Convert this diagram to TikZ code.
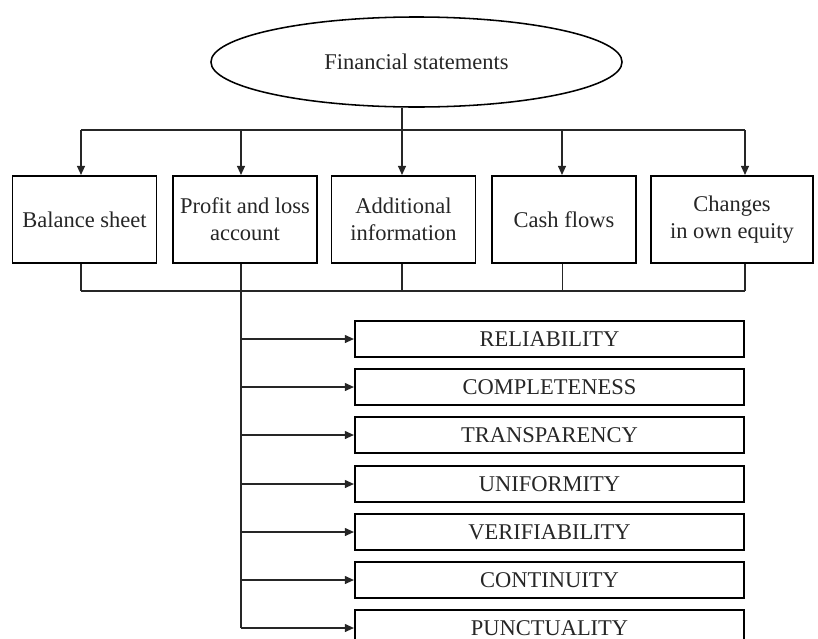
\documentclass[tikz,border=0pt]{standalone}
\usepackage{fontspec}
\setmainfont{Liberation Serif}
\usetikzlibrary{shapes.geometric,arrows.meta}

\tikzset{
  txt/.style={font=\fontsize{16}{19}\selectfont, text=black!85},
  part/.style={txt, draw, line width=1.3pt, align=center, inner sep=2pt,
    minimum width=3.6cm, minimum height=2.175cm},
  quality/.style={txt, draw, line width=1.3pt, inner sep=0pt,
    minimum width=9.725cm, minimum height=0.9cm},
  link/.style={line width=1.3pt, black!85},
  arr/.style={link, -{Triangle[length=6.5pt,width=5.5pt]}}
}

\begin{document}
\begin{tikzpicture}[x=0.025cm, y=-0.025cm]
  \useasboundingbox (0,0) rectangle (818,639);
  % title
  \node[txt, draw, ellipse, line width=1.1pt, minimum width=10.275cm,
    minimum height=2.25cm, inner sep=0pt] (fs) at (416.5,62) {Financial statements};
  % parts of the statements
  \node[part] (bs) at (84.5,219.5) {Balance sheet};
  \node[part] (pl) at (245,219.5) {Profit and loss\\account};
  \node[part] (ai) at (403.5,219.5) {Additional\\information};
  \node[part] (cf) at (564,219.5) {Cash flows};
  \node[part, minimum width=4.05cm] (ce) at (732,219.5) {Changes\\in own equity};
  % upper bus
  \coordinate (t1) at (81,130);
  \coordinate (t2) at (241,130);
  \coordinate (t3) at (402,130);
  \coordinate (t4) at (562,130);
  \coordinate (t5) at (745,130);
  \draw[link] (t1) -- (t5);
  \draw[arr] (t3 |- fs.south) -- (t3 |- ai.north);
  \draw[arr] (t1) -- (t1 |- bs.north);
  \draw[arr] (t2) -- (t2 |- pl.north);
  \draw[arr] (t4) -- (t4 |- cf.north);
  \draw[arr] (t5) -- (t5 |- ce.north);
  % lower bus
  \coordinate (b1) at (81,291);
  \coordinate (b2) at (241,291);
  \coordinate (b3) at (402,291);
  \coordinate (b4) at (562,291);
  \coordinate (b5) at (745,291);
  \draw[link, line width=0.9pt] (b1) -- (b5);
  \draw[link] (b1 |- bs.south) -- (b1);
  \draw[link] (b3 |- ai.south) -- (b3);
  \draw[link, line width=0.6pt] (b4 |- cf.south) -- (b4);
  \draw[link] (b5 |- ce.south) -- (b5);
  % qualities
  \node[quality] (q1) at (549.5,339) {RELIABILITY};
  \node[quality] (q2) at (549.5,387) {COMPLETENESS};
  \node[quality] (q3) at (549.5,435) {TRANSPARENCY};
  \node[quality] (q4) at (549.5,484) {UNIFORMITY};
  \node[quality] (q5) at (549.5,532) {VERIFIABILITY};
  \node[quality] (q6) at (549.5,580) {CONTINUITY};
  \node[quality] (q7) at (549.5,628) {PUNCTUALITY};
  \draw[link] (b2 |- pl.south) -- (b2 |- q7.west);
  \foreach \q in {q1,q2,q3,q4,q5,q6,q7}
    \draw[arr] (b2 |- \q.west) -- (\q.west);
\end{tikzpicture}
\end{document}
